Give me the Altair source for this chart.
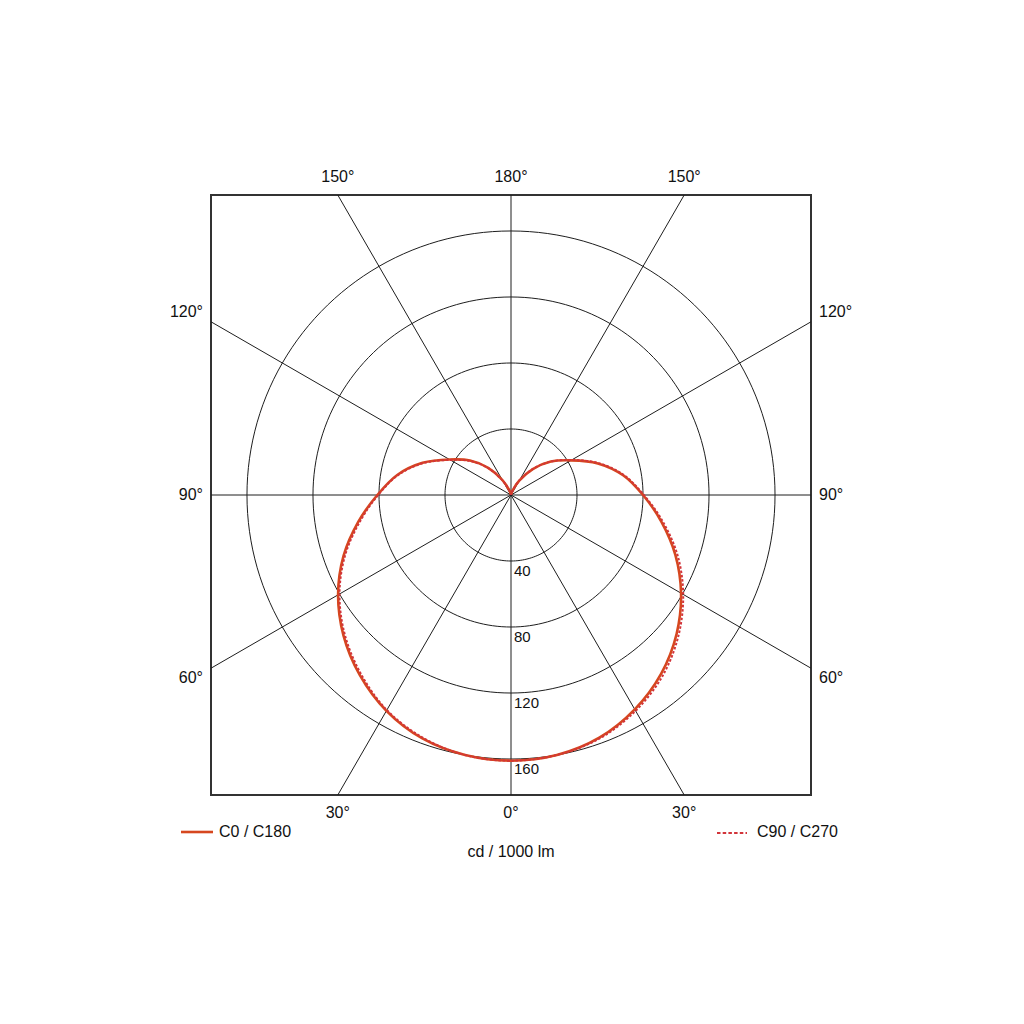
import altair as alt
import pandas as pd
import numpy as np

# ---- data ----
angles = [0, 10, 20, 30, 40, 50, 60, 70, 80, 90, 100, 110, 120, 130, 140, 150, 160, 170, 180]
c0 =   [161, 160, 156.5, 150, 141.5, 131, 119, 106, 92.5, 80, 69, 56, 42, 31.5, 20.5, 10, 3, 0.5, 0]
c180 = [161, 160, 157, 151, 142.5, 132.5, 121, 108, 94, 81, 70, 57, 43, 32.5, 21.5, 10.5, 3, 0.5, 0]
c90 =  [161, 160, 157, 151, 143, 132.5, 120.5, 107.5, 93.5, 80.5, 69.5, 56.5, 42.5, 31.5, 20.5, 10, 3, 0.5, 0]
c270 = [161, 160, 156.5, 150.5, 141.5, 131.5, 120, 107, 93, 80.5, 69.5, 56.5, 42.5, 32, 21, 10, 3, 0.5, 0]
series_names = ["C0 / C180", "C90 / C270"]
rings = [40, 80, 120, 160]
spoke_angles = [0, 30, 60, 90, 120, 150]
label_angles = [0, 30, 60, 90, 120, 150, 180]
unit_title = "cd / 1000 lm"

R = 181.8          # half-extent of the square plot (cd)
W = 600            # plot size in px
PX = W / (2 * R)   # px per cd
FONT = "Liberation Sans, Arial, Helvetica, sans-serif"
SOLID = "#d6471f"
DOTTED = "#d2343a"
GRID = "#1e1e1e"

# ---- curve table: left half (C180 / C270) then right half (C0 / C90) ----
rows = []
for name, left, right in [(series_names[0], c180, c0), (series_names[1], c270, c90)]:
    for a, v in zip(angles, left):
        rows.append({"series": name, "theta": a, "I": v, "side": -1, "ord": 180 - a})
    for a, v in zip(angles, right):
        if a == 0:
            continue
        rows.append({"series": name, "theta": a, "I": v, "side": 1, "ord": 181 + a})
curves = pd.DataFrame(rows)

xs = alt.Scale(domain=[-R, R], nice=False, zero=False)
ys = alt.Scale(domain=[-R, R], nice=False, zero=False)

base_curve = alt.Chart(curves).transform_calculate(
    x="datum.side * datum.I * sin(datum.theta * PI / 180)",
    y="-datum.I * cos(datum.theta * PI / 180)",
)
solid = base_curve.transform_filter(alt.datum.series == series_names[0]).mark_line(
    color=SOLID, strokeWidth=2.6, interpolate="catmull-rom"
).encode(
    x=alt.X("x:Q", scale=xs, axis=None),
    y=alt.Y("y:Q", scale=ys, axis=None),
    order="ord:Q",
)
dotted = base_curve.transform_filter(alt.datum.series == series_names[1]).mark_line(
    color=DOTTED, strokeWidth=2, strokeDash=[2.5, 1.8], interpolate="catmull-rom"
).encode(
    x=alt.X("x:Q", scale=xs, axis=None),
    y=alt.Y("y:Q", scale=ys, axis=None),
    order="ord:Q",
)

# ---- grid rings ----
ring_df = pd.DataFrame([{"r": r, "a": a} for r in rings for a in range(0, 361, 2)])
ring_layer = alt.Chart(ring_df).transform_calculate(
    x="datum.r * cos(datum.a * PI / 180)",
    y="datum.r * sin(datum.a * PI / 180)",
).mark_line(color=GRID, strokeWidth=1).encode(
    x=alt.X("x:Q", scale=xs, axis=None),
    y=alt.Y("y:Q", scale=ys, axis=None),
    detail="r:N",
    order="a:Q",
)

# ---- spokes every 30 degrees ----
spoke_df = pd.DataFrame({"a": spoke_angles})
spoke_layer = alt.Chart(spoke_df).transform_calculate(
    x="400 * sin(datum.a * PI / 180)",
    y="-400 * cos(datum.a * PI / 180)",
    x2="-400 * sin(datum.a * PI / 180)",
    y2="400 * cos(datum.a * PI / 180)",
).mark_rule(color=GRID, strokeWidth=1, clip=True).encode(
    x=alt.X("x:Q", scale=xs, axis=None),
    y=alt.Y("y:Q", scale=ys, axis=None),
    x2="x2:Q",
    y2="y2:Q",
)

# ---- angle labels around the box ----
lab_rows = []
for a in label_angles:
    sides = [1] if a in (0, 180) else [-1, 1]
    for s in sides:
        dx = s * np.sin(np.radians(a))
        dy = -np.cos(np.radians(a))
        tx = R / abs(dx) if abs(dx) > 1e-9 else np.inf
        ty = R / abs(dy) if abs(dy) > 1e-9 else np.inf
        t = min(tx, ty)
        px, py = dx * t, dy * t
        if ty <= tx:
            grp = "tb"
            ox, oy = 0, (18 if py > 0 else -18)
        else:
            grp = "left" if s < 0 else "right"
            ox = -8 if s < 0 else 8
            oy = 0 if abs(py) < 1e-6 else (10 if py > 0 else -10)
        lab_rows.append({"label": f"{a}°", "lx": px + ox / PX, "ly": py + oy / PX, "grp": grp})
lab_df = pd.DataFrame(lab_rows)


def label_layer(grp, align):
    return alt.Chart(lab_df).transform_filter(alt.datum.grp == grp).mark_text(
        align=align, baseline="middle", font=FONT, fontSize=16, color="#111"
    ).encode(
        x=alt.X("lx:Q", scale=xs, axis=None),
        y=alt.Y("ly:Q", scale=ys, axis=None),
        text="label:N",
    )


# ---- intensity labels along the 0° axis ----
ring_lab = alt.Chart(pd.DataFrame({"r": rings})).transform_calculate(
    x="0", y="-datum.r", t="'' + datum.r"
).mark_text(
    align="left", baseline="middle", dx=3, dy=10, font=FONT, fontSize=15, color="#111"
).encode(
    x=alt.X("x:Q", scale=xs, axis=None),
    y=alt.Y("y:Q", scale=ys, axis=None),
    text="t:N",
)

# ---- legend and unit title (below the box) ----
leg_solid = alt.Chart(pd.DataFrame({"s": [series_names[0]]})).mark_rule(
    color=SOLID, strokeWidth=2.6
).encode(x=alt.value(-30), x2=alt.value(2), y=alt.value(637))
leg_solid_t = alt.Chart(pd.DataFrame({"s": [series_names[0]]})).mark_text(
    align="left", baseline="middle", font=FONT, fontSize=16, color="#111"
).encode(x=alt.value(8), y=alt.value(637), text="s:N")
leg_dot = alt.Chart(pd.DataFrame({"s": [series_names[1]]})).mark_rule(
    color=DOTTED, strokeWidth=2, strokeDash=[3.5, 2.2]
).encode(x=alt.value(506), x2=alt.value(536), y=alt.value(638))
leg_dot_t = alt.Chart(pd.DataFrame({"s": [series_names[1]]})).mark_text(
    align="left", baseline="middle", font=FONT, fontSize=16, color="#111"
).encode(x=alt.value(546), y=alt.value(637), text="s:N")
unit_t = alt.Chart(pd.DataFrame({"s": [unit_title]})).mark_text(
    align="center", baseline="middle", font=FONT, fontSize=16, color="#111"
).encode(x=alt.value(300), y=alt.value(657), text="s:N")

chart = alt.layer(
    ring_layer, spoke_layer, solid, dotted,
    label_layer("tb", "center"), label_layer("left", "right"), label_layer("right", "left"),
    ring_lab, leg_solid, leg_solid_t, leg_dot, leg_dot_t, unit_t,
).properties(
    width=W, height=W,
    background="white",
    autosize=alt.AutoSizeParams(type="none"),
    padding={"left": 203, "top": 187, "right": 205, "bottom": 210},
).configure_view(
    stroke="#333", strokeWidth=2
)

chart.save("out.html", embed_options={"renderer": "svg", "actions": False})
